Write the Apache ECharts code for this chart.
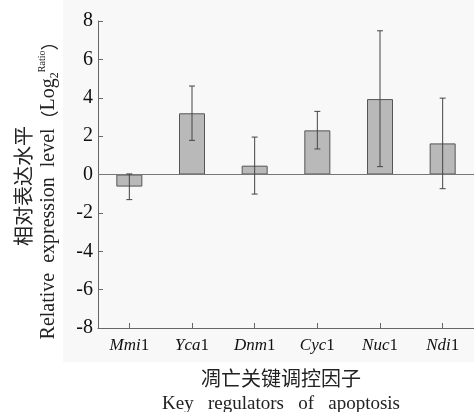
<!DOCTYPE html>
<html><head><meta charset="utf-8">
<script src="https://cdn.jsdelivr.net/npm/echarts@6/dist/echarts.min.js"></script>
<style>html,body{margin:0;padding:0;background:#fff}#c{width:474px;height:412px}</style>
</head><body><div id="c"></div>
<script>
const genes = ['Mmi', 'Yca', 'Dnm', 'Cyc', 'Nuc', 'Ndi'];
const geneSuffix = ['1', '1', '1', '1', '1', '1'];
const values = [-0.63, 3.19, 0.46, 2.30, 3.93, 1.62];
const errLow = [-1.31, 1.78, -1.02, 1.33, 0.41, -0.74];
const errHigh = [0.03, 4.61, 1.95, 3.29, 7.49, 3.98];
const yMin = -8, yMax = 8, yStep = 2;
const yTitleCn = '相对表达水平';
const yTitleEn = 'Relative  expression  level';
const xTitleCn = '凋亡关键调控因子';
const xTitleEn = 'Key   regulators   of   apoptosis';

const serif = '"Liberation Serif", "Times New Roman", serif';
const cjk = '"Noto Sans CJK SC", sans-serif';

const errData = genes.map((g, i) => [i, errLow[i], errHigh[i]]);

const chart = echarts.init(document.getElementById('c'));
chart.setOption({
  animation: false,
  backgroundColor: '#ffffff',
  grid: { left: 98, top: 21, height: 307, width: 382 },
  xAxis: {
    type: 'category',
    data: genes,
    boundaryGap: true,
    axisLine: { show: true, onZero: false, lineStyle: { color: '#666', width: 1 } },
    axisTick: { show: true, inside: true, alignWithLabel: true, length: 5, lineStyle: { color: '#666' } },
    axisLabel: {
      interval: 0,
      margin: 9,
      formatter: (v, i) => '{i|' + v + '}{r|' + geneSuffix[i] + '}',
      rich: {
        i: { fontStyle: 'italic', fontFamily: serif, fontSize: 17, color: '#111' },
        r: { fontFamily: serif, fontSize: 17, color: '#111' }
      }
    },
    splitLine: { show: false }
  },
  yAxis: {
    type: 'value',
    min: yMin, max: yMax, interval: yStep,
    axisLine: { show: true, lineStyle: { color: '#666', width: 1 } },
    axisTick: { show: true, inside: true, length: 5, lineStyle: { color: '#666' } },
    axisLabel: { margin: 5, fontFamily: serif, fontSize: 20, color: '#111' },
    splitLine: { show: false }
  },
  graphic: [
    { type: 'rect', z: -10, silent: true, shape: { x: 63, y: 0, width: 411, height: 362 }, style: { fill: '#f8f8f8' } },
    { type: 'text', x: 23, y: 186, rotation: Math.PI / 2, silent: true,
      style: { text: yTitleCn, font: '20px ' + cjk, fill: '#222', align: 'center', verticalAlign: 'middle' } },
    { type: 'text', x: 49, y: 186, rotation: Math.PI / 2, silent: true,
      style: {
        text: '{t|' + yTitleEn + '}{p|（}{t|Log}{sub|2}{sup|Ratio}{p|）}',
        align: 'center', verticalAlign: 'middle',
        rich: {
          t: { fontFamily: serif, fontSize: 20, fill: '#222', lineHeight: 24 },
          p: { fontFamily: cjk, fontSize: 18, fill: '#222', lineHeight: 24 },
          sub: { fontFamily: serif, fontSize: 12, fill: '#222', verticalAlign: 'bottom', lineHeight: 24 },
          sup: { fontFamily: serif, fontSize: 10, fill: '#222', verticalAlign: 'top', lineHeight: 24 }
        }
      } },
    { type: 'text', x: 281, y: 378, silent: true,
      style: { text: xTitleCn, font: '20px ' + cjk, fill: '#222', align: 'center', verticalAlign: 'middle' } },
    { type: 'text', x: 281, y: 404, silent: true,
      style: { text: xTitleEn, font: '19px ' + serif, fill: '#222', align: 'center', verticalAlign: 'middle' } }
  ],
  series: [
    {
      type: 'bar',
      data: values,
      barWidth: 26,
      itemStyle: { color: '#b9b9b9', borderColor: '#555', borderWidth: 1 },
      markLine: {
        silent: true, symbol: 'none',
        label: { show: false },
        lineStyle: { color: '#777', width: 1, type: 'solid' },
        data: [{ yAxis: 0 }]
      }
    },
    {
      type: 'custom',
      z: 5,
      data: errData,
      renderItem: (params, api) => {
        const x = api.value(0);
        const lo = api.coord([x, api.value(1)]);
        const hi = api.coord([x, api.value(2)]);
        const w = 3;
        const st = { stroke: '#444', lineWidth: 1 };
        return {
          type: 'group',
          children: [
            { type: 'line', shape: { x1: lo[0], y1: lo[1], x2: hi[0], y2: hi[1] }, style: st },
            { type: 'line', shape: { x1: hi[0] - w, y1: hi[1], x2: hi[0] + w, y2: hi[1] }, style: st },
            { type: 'line', shape: { x1: lo[0] - w, y1: lo[1], x2: lo[0] + w, y2: lo[1] }, style: st }
          ]
        };
      }
    }
  ]
});
</script>
</body></html>
